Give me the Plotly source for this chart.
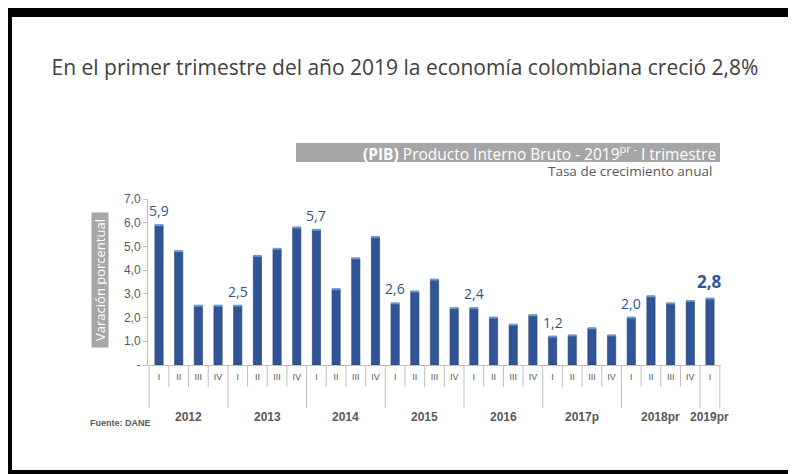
import plotly.graph_objects as go

# ---------------- data ----------------
years = ["2012", "2013", "2014", "2015", "2016", "2017p", "2018pr", "2019pr"]
quarters_per_year = [4, 4, 4, 4, 4, 4, 4, 1]
quarter_names = ["I", "II", "III", "IV"]
values = [5.9, 4.8, 2.5, 2.5,
          2.5, 4.6, 4.9, 5.8,
          5.7, 3.2, 4.5, 5.4,
          2.6, 3.1, 3.6, 2.4,
          2.4, 2.0, 1.7, 2.1,
          1.2, 1.25, 1.55, 1.25,
          2.0, 2.9, 2.6, 2.7,
          2.8]
y_tick_values = [0, 1, 2, 3, 4, 5, 6, 7]
y_tick_labels = ["-", "1,0", "2,0", "3,0", "4,0", "5,0", "6,0", "7,0"]

title_text = "En el primer trimestre del año 2019 la economía colombiana creció 2,8%"
banner_text = "<b>(PIB)</b> Producto Interno Bruto - 2019<sup>pr -</sup> I trimestre"
subtitle_text = "Tasa de crecimiento anual"
ytitle_text = "Varación porcentual"
source_text = "Fuente: DANE"

# ---------------- derived ----------------
quarter_labels = []
bar_year = []
group_start = []
pos = 0
for y, n in zip(years, quarters_per_year):
    group_start.append(pos)
    for q in range(n):
        quarter_labels.append(quarter_names[q])
        bar_year.append(y)
    pos += n
n_bars = len(values)
idx = list(range(n_bars))

# page has an 8px body margin: figure is placed at (8, 8) in the window
OFF = 8
W, H = 788, 466
ML, MR, MT, MB = 140, 75, 191, 109
PW = W - ML - MR
PH = H - MT - MB


def px2x(px):  # window pixel -> paper x
    return (px - OFF - ML) / PW


def py2y(py):  # window pixel -> paper y
    return (H - MB - (py - OFF)) / PH


BLUE = "#2F5597"
GRAY_TXT = "#595959"
GRAY_LINE = "#BFBFBF"

fig = go.Figure()
fig.add_trace(go.Bar(
    x=idx, y=values, width=0.42,
    marker=dict(color=BLUE, line=dict(color="#22426F", width=0.6)),
    hovertext=[f"{y} {q}" for y, q in zip(bar_year, quarter_labels)],
    showlegend=False,
))
# light cap on top of each bar
fig.add_trace(go.Scatter(
    x=idx, y=values, mode="markers", hoverinfo="skip", showlegend=False,
    marker=dict(symbol="line-ew", size=6, line=dict(color="#6F97CF", width=2)),
))

annotations = []
# data labels on first quarter of each year
for gi, s in enumerate(group_start):
    v = values[s]
    txt = f"{v:.1f}".replace(".", ",")
    last = gi == len(group_start) - 1
    annotations.append(dict(
        x=s, y=v, xref="x", yref="y", text=("<b>" + txt + "</b>") if last else txt,
        showarrow=False, yanchor="bottom", xanchor="center", yshift=4 if last else 3,
        font=dict(family="Open Sans", size=17 if last else 14, color=BLUE),
    ))

# year labels
for y, s, n in zip(years, group_start, quarters_per_year):
    annotations.append(dict(
        x=s + (n - 1) / 2, y=py2y(417), xref="x", yref="paper", text="<b>" + y + "</b>",
        showarrow=False, xanchor="center", yanchor="middle",
        font=dict(family="Liberation Sans, Arial", size=12, color=GRAY_TXT),
    ))

# banner text, subtitle, y title, source
annotations += [
    dict(x=px2x(718), y=py2y(152.5), xref="paper", yref="paper", text=banner_text,
         showarrow=False, xanchor="right", yanchor="middle",
         font=dict(family="Open Sans", size=15.5, color="white")),
    dict(x=px2x(714), y=py2y(171), xref="paper", yref="paper", text=subtitle_text,
         showarrow=False, xanchor="right", yanchor="middle",
         font=dict(family="Open Sans", size=13.5, color=GRAY_TXT)),
    dict(x=px2x(100), y=py2y(280), xref="paper", yref="paper", text=ytitle_text,
         showarrow=False, xanchor="center", yanchor="middle", textangle=-90,
         bgcolor="#A6A6A6", width=132, height=14, borderpad=1,
         font=dict(family="Open Sans", size=13, color="white")),
    dict(x=px2x(88), y=py2y(423), xref="paper", yref="paper", text="<b>" + source_text + "</b>",
         showarrow=False, xanchor="left", yanchor="middle",
         font=dict(family="Liberation Sans, Arial", size=9, color=GRAY_TXT)),
]

shapes = []
# category separators
boundaries = set(group_start + [n_bars])
for b in range(n_bars + 1):
    long = b in boundaries
    shapes.append(dict(type="line", xref="x", yref="paper", x0=b - 0.5, x1=b - 0.5,
                       y0=py2y(366), y1=py2y(408 if long else 387),
                       line=dict(color=GRAY_LINE, width=1)))
# banner background
shapes.append(dict(type="rect", xref="paper", yref="paper", x0=px2x(296), x1=px2x(720),
                   y0=py2y(162), y1=py2y(143), fillcolor="#A6A6A6", line=dict(width=0), layer="below"))
# black frame
for x0, x1, y0, y1 in [(5, 800, 7, 17), (6, 12, 7, 476), (6, 800, 470, 476)]:
    shapes.append(dict(type="rect", xref="paper", yref="paper", x0=px2x(x0), x1=px2x(x1),
                       y0=py2y(y1), y1=py2y(y0), fillcolor="black", line=dict(width=0)))

fig.update_layout(
    width=W, height=H,
    margin=dict(l=ML, r=MR, t=MT, b=MB, pad=0),
    paper_bgcolor="white", plot_bgcolor="white",
    title=dict(text=title_text, x=(405 - OFF) / W, xref="container", xanchor="center",
               y=1 - (68 - OFF) / H, yref="container", yanchor="middle",
               font=dict(family="Open Sans", size=21, color="#404040")),
    xaxis=dict(range=[-0.56, n_bars - 0.44], tickvals=idx, ticktext=quarter_labels,
               showline=True, linecolor=GRAY_LINE, linewidth=1, ticks="", showgrid=False,
               zeroline=False, ticklabelstandoff=3,
               tickfont=dict(family="Liberation Sans, Arial", size=9, color=GRAY_TXT)),
    yaxis=dict(range=[0, 7], tickvals=y_tick_values, ticktext=y_tick_labels,
               showline=True, linecolor=GRAY_LINE, linewidth=1, ticks="outside", ticklen=4,
               tickcolor=GRAY_LINE, showgrid=False, zeroline=False,
               tickfont=dict(family="Liberation Sans, Arial", size=12, color=GRAY_TXT)),
    annotations=annotations, shapes=shapes, bargap=0.5,
)

fig.write_html("out.html")
